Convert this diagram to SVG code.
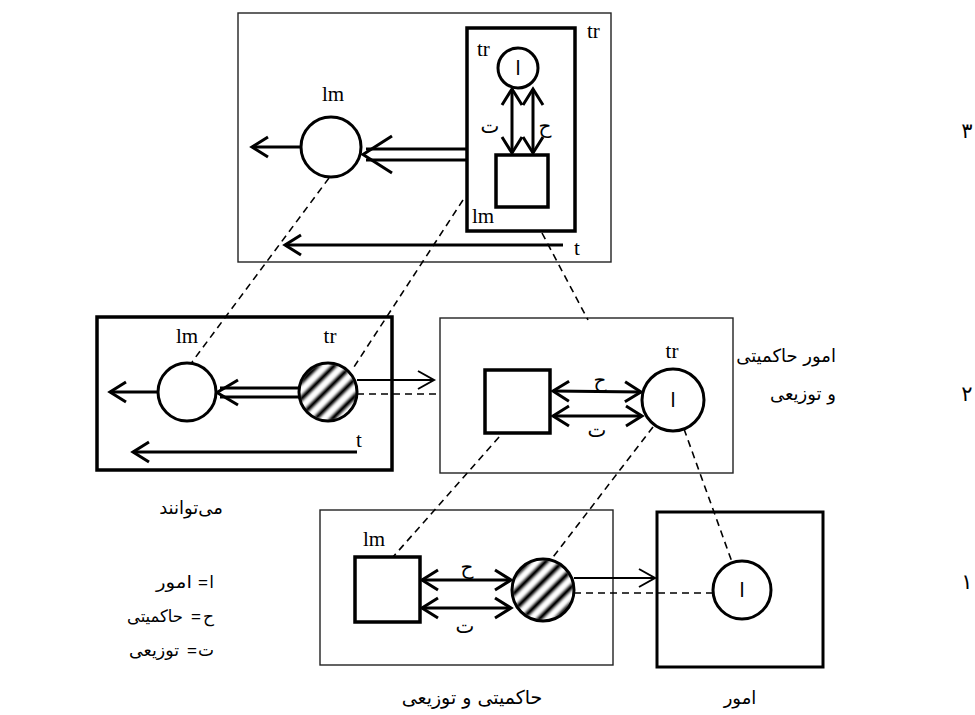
<svg xmlns="http://www.w3.org/2000/svg" width="975" height="715" viewBox="0 0 975 715">
<defs>
  <!-- open chevron arrow heads -->
  <marker id="head" viewBox="-3 -13 22 26" refX="16" refY="0" markerWidth="22" markerHeight="26" markerUnits="userSpaceOnUse" orient="auto-start-reverse">
    <path d="M0,-10 L16,0 L0,10" fill="none" stroke="#000" stroke-width="3"/>
  </marker>
  <marker id="headThin" viewBox="-3 -13 22 26" refX="16" refY="0" markerWidth="22" markerHeight="26" markerUnits="userSpaceOnUse" orient="auto">
    <path d="M0,-9 L16,0 L0,9" fill="none" stroke="#000" stroke-width="2"/>
  </marker>
  <pattern id="hatch" patternUnits="userSpaceOnUse" width="12" height="12" patternTransform="rotate(45)">
    <rect width="12" height="12" fill="#fff"/>
    <rect width="6" height="12" fill="#000"/>
  </pattern>
  <filter id="soft" x="-20%" y="-20%" width="140%" height="140%"><feGaussianBlur stdDeviation="0.9"/></filter>
</defs>
<style>
  .frame{fill:none;stroke:#222;stroke-width:1.4}
  .thick{fill:none;stroke:#000;stroke-width:3.5}
  .node{fill:#fff;stroke:#000;stroke-width:3}
  .box{fill:#fff;stroke:#000;stroke-width:3.5}
  .arr{fill:none;stroke:#000;stroke-width:3}
  .thin{fill:none;stroke:#000;stroke-width:2}
  .dash{fill:none;stroke:#000;stroke-width:1.6;stroke-dasharray:7 5}
  .lat{font-family:"Liberation Serif",serif;font-size:21px;fill:#000}
  .fa{font-family:"DejaVu Sans","Noto Sans",sans-serif;font-size:17px;fill:#000}
  .eq{font-family:"Liberation Sans",sans-serif;font-size:17px;fill:#000;text-anchor:end}
  .num{font-family:"DejaVu Sans",sans-serif;font-size:21px;fill:#000;text-anchor:middle}
  .alef{font-family:"DejaVu Sans",sans-serif;font-size:20px;fill:#000;text-anchor:middle}
  .mid{text-anchor:middle}
  .end{text-anchor:end}
</style>

<!-- level frames -->
<g id="frames">
  <rect class="frame" x="238" y="13" width="373" height="249"/>
  <rect class="thick" x="467" y="28" width="108" height="203"/>
  <rect class="thick" x="97" y="317" width="295" height="153"/>
  <rect class="frame" x="440" y="318" width="293" height="155"/>
  <rect class="frame" x="320" y="510" width="293" height="155"/>
  <rect class="frame" x="657" y="512" width="166" height="155" style="stroke:#000;stroke-width:3"/>
</g>

<!-- dashed correspondence lines and arrows -->
<g id="connectors">
  <line class="dash" x1="329" y1="178" x2="192" y2="362"/>
  <line class="dash" x1="463" y1="200" x2="352" y2="370"/>
  <line class="dash" x1="542" y1="233" x2="588" y2="320"/>
  <line class="dash" x1="507" y1="428" x2="393" y2="557"/>
  <line class="dash" x1="653" y1="427" x2="550" y2="561"/>
  <line class="dash" x1="684" y1="429" x2="732" y2="562"/>
  <line class="dash" x1="357" y1="394" x2="440" y2="394"/>
  <line class="dash" x1="574" y1="593" x2="713" y2="593"/>

  <!-- level 3 -->
  <line class="arr" x1="512" y1="89" x2="512" y2="153" marker-start="url(#head)" marker-end="url(#head)"/>
  <line class="arr" x1="533" y1="89" x2="533" y2="153" marker-start="url(#head)" marker-end="url(#head)"/>
  <line class="arr" x1="301" y1="147" x2="252" y2="147" marker-end="url(#head)"/>
  <line class="arr" x1="467" y1="149" x2="366" y2="149"/>
  <line class="arr" x1="467" y1="160" x2="366" y2="160"/>
  <polyline class="arr" points="392,136 363,154.5 392,173"/>
  <line class="arr" x1="563" y1="245" x2="285" y2="245" marker-end="url(#head)"/>

  <!-- level 2 -->
  <line class="arr" x1="158" y1="392" x2="110" y2="392" marker-end="url(#head)"/>
  <line class="arr" x1="299" y1="388" x2="220" y2="388"/>
  <line class="arr" x1="299" y1="397" x2="220" y2="397"/>
  <polyline class="arr" points="238,380 217,392.5 238,405"/>
  <line class="arr" x1="357" y1="452" x2="133" y2="452" marker-end="url(#head)"/>
  <line class="thin" x1="357" y1="380" x2="434" y2="380" marker-end="url(#headThin)"/>
  <line class="arr" x1="553" y1="391" x2="641" y2="392" marker-start="url(#head)" marker-end="url(#head)"/>
  <line class="arr" x1="553" y1="416" x2="642" y2="416" marker-start="url(#head)" marker-end="url(#head)"/>

  <!-- level 1 -->
  <line class="arr" x1="422" y1="580" x2="511" y2="580" marker-start="url(#head)" marker-end="url(#head)"/>
  <line class="arr" x1="422" y1="608" x2="511" y2="608" marker-start="url(#head)" marker-end="url(#head)"/>
  <line class="thin" x1="574" y1="578" x2="655" y2="578" marker-end="url(#headThin)"/>
</g>

<!-- level 3 nodes -->
<g id="l3-affairs">
  <circle class="node" cx="518" cy="68" r="20"/>
  <text class="alef" x="518" y="75">ا</text>
  <text class="lat" x="477" y="56">tr</text>
</g>
<g id="l3-square">
  <rect class="box" x="496" y="155" width="52" height="52"/>
  <text class="lat" x="472" y="223">lm</text>
</g>
<g id="l3-lm">
  <circle class="node" cx="331" cy="147" r="30"/>
  <text class="lat mid" x="333" y="101">lm</text>
</g>
<g id="l3-labels">
  <text class="lat" x="587" y="38">tr</text>
  <text class="lat" x="574" y="255">t</text>
  <text class="fa mid" x="490" y="133" style="font-size:20px">ت</text>
  <text class="fa mid" x="545" y="133" style="font-size:20px">ح</text>
</g>

<!-- level 2 nodes -->
<g id="l2-lm">
  <circle class="node" cx="187" cy="392" r="29"/>
  <text class="lat mid" x="187" y="343">lm</text>
</g>
<g id="l2-tr">
  <circle cx="328" cy="392" r="28.5" fill="url(#hatch)" filter="url(#soft)"/>
  <circle cx="328" cy="392" r="29" fill="none" stroke="#000" stroke-width="3"/>
  <text class="lat mid" x="330" y="343">tr</text>
</g>
<g id="l2-t">
  <text class="lat" x="356" y="447">t</text>
</g>
<g id="l2-square">
  <rect class="box" x="485" y="370" width="65" height="63"/>
</g>
<g id="l2-affairs">
  <circle class="node" cx="673" cy="400" r="31"/>
  <text class="alef" x="673" y="407">ا</text>
  <text class="lat mid" x="672" y="358">tr</text>
</g>
<g id="l2-labels">
  <text class="fa mid" x="600" y="387" style="font-size:20px">ح</text>
  <text class="fa mid" x="597" y="437" style="font-size:20px">ت</text>
  <text class="fa end" x="223" y="514" style="font-size:18px">می‌توانند</text>
  <text class="fa end" x="836" y="362" style="font-size:18px">امور حاکمیتی</text>
  <text class="fa end" x="836" y="400" style="font-size:18px">و توزیعی</text>
</g>

<!-- level 1 nodes -->
<g id="l1-square">
  <rect class="box" x="355" y="557" width="65" height="65"/>
  <text class="lat mid" x="374" y="546">lm</text>
</g>
<g id="l1-hatched">
  <circle cx="543" cy="590" r="30.5" fill="url(#hatch)" filter="url(#soft)"/>
  <circle cx="543" cy="590" r="31" fill="none" stroke="#000" stroke-width="3"/>
</g>
<g id="l1-affairs">
  <circle class="node" cx="742" cy="590" r="29"/>
  <text class="alef" x="742" y="597">ا</text>
</g>
<g id="l1-labels">
  <text class="fa mid" x="467" y="574" style="font-size:20px">ح</text>
  <text class="fa mid" x="465" y="633" style="font-size:20px">ت</text>
  <text class="fa mid" x="472" y="704" style="font-size:19px">حاکمیتی و توزیعی</text>
  <text class="fa mid" x="740" y="704" style="font-size:18px">امور</text>
</g>

<!-- level numbers -->
<g id="levels">
  <text class="num" x="967" y="138">۳</text>
  <text class="num" x="967" y="401">۲</text>
  <text class="num" x="967" y="589">۱</text>
</g>

<!-- legend: meaning, equals sign, symbol (symbol on the right) -->
<g id="legend">
  <text class="fa end" x="192" y="588" textLength="36" lengthAdjust="spacingAndGlyphs">امور</text>
  <text class="eq" x="208" y="588">=</text>
  <text class="fa end" x="214" y="588">ا</text>
  <text class="fa end" x="183" y="622" textLength="56" lengthAdjust="spacingAndGlyphs">حاکمیتی</text>
  <text class="eq" x="201" y="622">=</text>
  <text class="fa end" x="214" y="622">ح</text>
  <text class="fa end" x="179" y="656" textLength="50" lengthAdjust="spacingAndGlyphs">توزیعی</text>
  <text class="eq" x="197" y="656">=</text>
  <text class="fa end" x="214" y="656">ت</text>
</g>
</svg>
